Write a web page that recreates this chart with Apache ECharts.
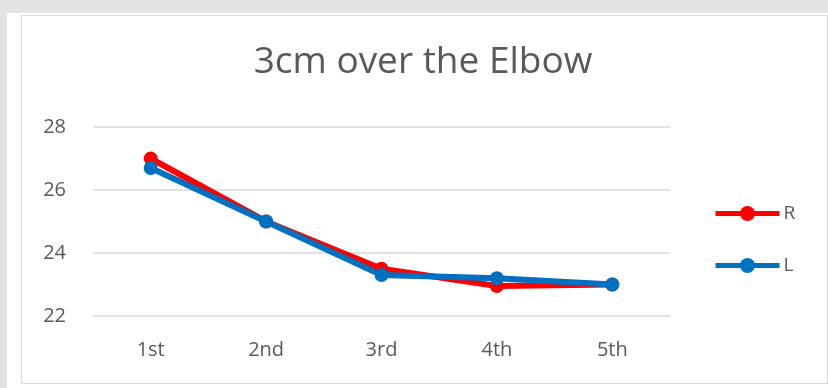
<!DOCTYPE html>
<html>
<head>
<meta charset="utf-8">
<script src="https://cdn.jsdelivr.net/npm/echarts@6/dist/echarts.min.js"></script>
<style>
  html, body { margin: 0; padding: 0; background: #e3e3e3; }
  #sheet { position: absolute; left: 7px; top: 13px; width: 821px; height: 375px; background: #ffffff; }
  #frame { position: absolute; left: 21px; top: 15px; width: 805px; height: 367px; border: 1px solid #d9d9d9; background: #ffffff; }
  #chart { position: absolute; left: 0; top: 0; width: 828px; height: 388px; }
</style>
</head>
<body>
<div id="sheet"></div>
<div id="frame"></div>
<div id="chart"></div>
<script>
// Measurements taken at 3cm above the elbow, five sessions
const categories = ['1st', '2nd', '3rd', '4th', '5th'];
const rightArm = [27.0, 25.0, 23.5, 22.95, 23.0];
const leftArm = [26.7, 25.0, 23.3, 23.2, 23.0];
const yTicks = { min: 22, max: 28, interval: 2 };

const textColor = '#595959';
const fontFamily = '"Open Sans", Carlito, sans-serif';

const chart = echarts.init(document.getElementById('chart'), null, { renderer: 'canvas' });

chart.setOption({
  backgroundColor: 'transparent',
  animation: false,
  title: {
    text: '3cm over the Elbow',
    left: 418,
    textAlign: 'center',
    top: 39,
    textStyle: { color: textColor, fontSize: 37, fontWeight: 'normal', fontFamily: fontFamily }
  },
  legend: {
    orient: 'vertical',
    left: 708,
    top: 199,
    itemWidth: 64,
    itemHeight: 19,
    itemGap: 33,
    lineStyle: { width: 5 },
    textStyle: { color: textColor, fontSize: 19, fontFamily: fontFamily, padding: [0, 0, 0, -1] },
    data: ['R', 'L']
  },
  grid: { left: 93, right: 158, top: 127, bottom: 72 },
  xAxis: {
    type: 'category',
    data: categories,
    boundaryGap: true,
    axisLine: { show: false },
    axisTick: { show: false },
    axisLabel: { color: textColor, fontSize: 20, fontFamily: fontFamily, margin: 24 }
  },
  yAxis: {
    type: 'value',
    min: yTicks.min,
    max: yTicks.max,
    interval: yTicks.interval,
    axisLine: { show: false },
    axisTick: { show: false },
    axisLabel: { color: textColor, fontSize: 20, fontFamily: fontFamily, margin: 27 },
    splitLine: { lineStyle: { color: '#d9d9d9', width: 1.5 } }
  },
  series: [
    {
      name: 'R',
      type: 'line',
      data: rightArm,
      symbol: 'circle',
      symbolSize: 14,
      color: '#ff0000',
      lineStyle: { width: 6, color: '#ff0000' },
      itemStyle: { color: '#ff0000' }
    },
    {
      name: 'L',
      type: 'line',
      data: leftArm,
      symbol: 'circle',
      symbolSize: 14,
      color: '#0070c0',
      lineStyle: { width: 6, color: '#0070c0' },
      itemStyle: { color: '#0070c0' }
    }
  ]
});
</script>
</body>
</html>
